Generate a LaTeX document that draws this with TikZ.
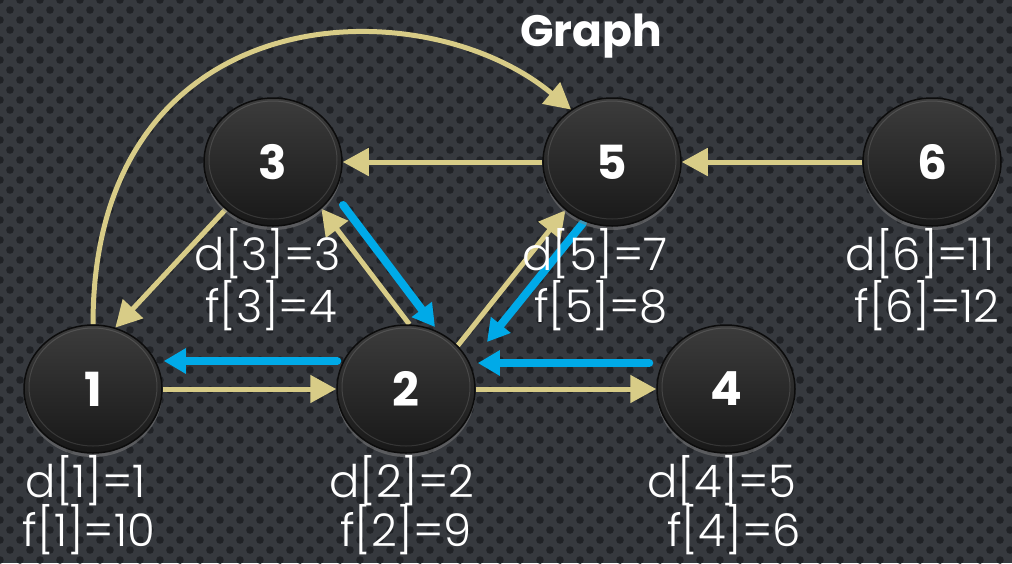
\documentclass[tikz,border=0pt]{standalone}
\usepackage{fontspec}
\setmainfont{Poppins}
\IfFontExistsTF{Poppins Light}{\newfontfamily\lightfont{Poppins Light}}{\newfontfamily\lightfont{Poppins}}
\usetikzlibrary{shapes.geometric,arrows.meta,calc,shadows}
\definecolor{bgc}{RGB}{54,57,62}
\definecolor{dotc}{RGB}{32,34,38}
\definecolor{ylw}{RGB}{216,204,135}
\definecolor{blu}{RGB}{0,170,232}
\definecolor{ntop}{RGB}{60,60,60}
\definecolor{nbot}{RGB}{24,24,24}
\definecolor{nedge}{RGB}{12,12,12}
\pgfdeclarelayer{back}
\pgfdeclarelayer{edges}
\pgfsetlayers{back,edges,main}
\tikzset{
  vert/.style={ellipse, minimum width=138, minimum height=128, inner sep=0,
    draw=nedge, line width=1.5, top color=ntop, bottom color=nbot, text=white,
    font=\bfseries\fontsize{47}{47}\selectfont,
    drop shadow={shadow xshift=0pt, shadow yshift=-4pt, opacity=0.5}},
  ring/.style={draw=white, draw opacity=0.12, line width=1pt},
  lbl/.style={text=white, font=\lightfont\fontsize{45}{45}\selectfont, anchor=base, inner sep=0},
  ye/.style={draw=ylw, line width=5pt, -{Triangle[length=26pt,width=27pt]}},
  be/.style={draw=blu, line width=8pt, line cap=round, -{Triangle[length=22pt,width=24pt]}},
}
\begin{document}
\begin{tikzpicture}[x=1pt,y=-1pt]
\useasboundingbox (0,0) rectangle (1012,563);
\begin{pgfonlayer}{back}
  \fill[bgc] (0,0) rectangle (1012,563);
  \fill[dotc] \foreach \j in {0,...,57}{ \foreach \i in {0,...,51}{ ({\i*20+mod(\j,2)*10},{\j*10}) circle[radius=3.8] } };
\end{pgfonlayer}

\node[vert] (n1) at (93,389) {1};
\node[vert] (n2) at (406,389) {2};
\node[vert] (n3) at (273,162) {3};
\node[vert] (n4) at (726,389) {4};
\node[vert] (n5) at (612,162) {5};
\node[vert] (n6) at (932,162) {6};
\foreach \n in {n1,n2,n3,n4,n5,n6}{
  \draw[ring] ($(\n.center)+(0,-2)$) ellipse[x radius=64, y radius=59];
}

\node[text=white, font=\bfseries\fontsize{44}{44}\selectfont, anchor=base, inner sep=0] (title) at (591,46) {Graph};

\node[lbl] (d1) at (86,497) {d[1]=1};
\node[lbl] (f1) at (89,546) {f[1]=10};
\node[lbl] (d2) at (402,497) {d[2]=2};
\node[lbl] (f2) at (406,546) {f[2]=9};
\node[lbl] (d3) at (268,270) {d[3]=3};
\node[lbl] (f3) at (271,322) {f[3]=4};
\node[lbl] (d5) at (595,270) {d[5]=7};
\node[lbl] (f5) at (601,322) {f[5]=8};
\node[lbl] (d6) at (920,270) {d[6]=11};
\node[lbl] (f6) at (927,322) {f[6]=12};
\node[lbl] (d4) at (722,497) {d[4]=5};
\node[lbl] (f4) at (734,546) {f[4]=6};

\begin{pgfonlayer}{edges}
  \draw[ye] (n1.north) .. controls +(0,-330) and +(-150,-125) .. (n5.128);
  \draw[ye] (n1.east) -- (n2.west);
  \draw[ye] (n3.225) -- (n1.70);
  \draw[ye] (n2.87) -- (n3.316);
  \draw[ye] (n2.40) -- (n5.226);
  \draw[ye] (n5.west) -- (n3.east);
  \draw[ye] (n6.west) -- (n5.east);
  \draw[ye] (n2.east) -- (n4.west);
  \draw[be] ($(n2.west)+(1,-28)$) -- ($(n1.east)+(1,-28)$);
  \draw[be] ($(n3.center)+(70,43)$) -- ($(n2.center)+(29,-62)$);
  \draw[be] ($(n5.center)+(-29,61)$) -- ($(n2.center)+(81,-47)$);
  \draw[be] ($(n4.west)+(-7,-26)$) -- ($(n2.east)+(2,-26)$);
\end{pgfonlayer}
\end{tikzpicture}
\end{document}
